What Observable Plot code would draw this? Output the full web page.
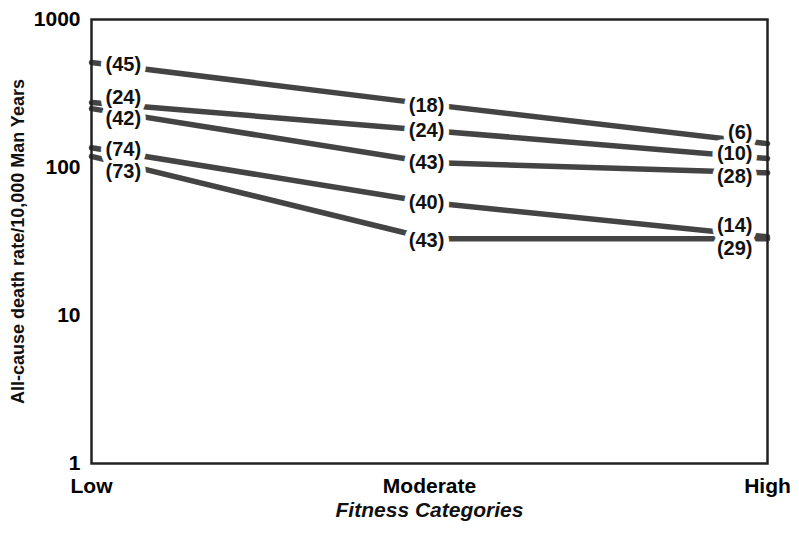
<!DOCTYPE html>
<html>
<head>
<meta charset="utf-8">
<script src="https://cdn.jsdelivr.net/npm/d3@7"></script>
<script src="https://cdn.jsdelivr.net/npm/@observablehq/plot@0.6"></script>
<style>
  html, body { margin: 0; padding: 0; background: #fff; }
</style>
</head>
<body>
<div id="chart"></div>
<script>
// ---- data ----
const categories = ["Low", "Moderate", "High"];
const lowRate = [512, 275, 250, 136, 119];
const moderateRate = [267, 178, 108, 58, 33];
const highRate = [145, 115, 92, 34, 33];
const lowDeaths = [45, 24, 42, 74, 73];
const moderateDeaths = [18, 24, 43, 40, 43];
const highDeaths = [6, 10, 28, 14, 29];
const yTicks = [1, 10, 100, 1000];
const yTitle = "All-cause death rate/10,000 Man Years";
const xTitle = "Fitness Categories";

// label nudges (pixels), kept apart from the data
const lowNudge = [2, -5, 10, 2, 15];
const moderateNudge = [1, 0, 0, 0, 2];
const highNudge = [-11, -5, 4, -11, 10];

const rates = [lowRate, moderateRate, highRate];
const deaths = [lowDeaths, moderateDeaths, highDeaths];
const nudges = [lowNudge, moderateNudge, highNudge];

const rows = [];
for (let i = 0; i < lowRate.length; i++) {
  categories.forEach((c, j) => {
    rows.push({series: i, fitness: c, rate: rates[j][i], deaths: deaths[j][i], nudge: nudges[j][i], col: j});
  });
}

const font = "'Liberation Sans', Arial, Helvetica, sans-serif";
const anchorFor = [
  {textAnchor: "start", dx: 14},
  {textAnchor: "middle", dx: -3},
  {textAnchor: "end", dx: -15}
];
const labelFont = {fontSize: 20, fontWeight: "bold"};

// white halos first (mask the lines), then the label text on top
const haloMarks = rows.map(r => Plot.text([r], {
  x: "fitness", y: "rate", text: d => `(${d.deaths})`,
  dy: r.nudge, ...anchorFor[r.col], ...labelFont,
  fill: "white", stroke: "white", strokeWidth: 11, strokeLinejoin: "round"
}));
const labelMarks = rows.map(r => Plot.text([r], {
  x: "fitness", y: "rate", text: d => `(${d.deaths})`,
  dy: r.nudge, ...anchorFor[r.col], ...labelFont, fill: "#111"
}));

const chart = Plot.plot({
  width: 799,
  height: 536,
  marginLeft: 91,
  marginRight: 32,
  marginTop: 19,
  marginBottom: 73,
  style: {fontFamily: font, background: "white"},
  x: {type: "point", domain: categories, padding: 0, label: null},
  y: {type: "log", domain: [1, 1000], label: null},
  marks: [
    Plot.line(rows, {x: "fitness", y: "rate", z: "series", stroke: "#444", strokeWidth: 5.5, curve: "linear"}),
    ...haloMarks,
    ...labelMarks,
    Plot.frame({stroke: "#222", strokeWidth: 2.5}),
    Plot.axisY({ticks: yTicks, tickFormat: d => String(d), tickSize: 0, tickPadding: 11, fontSize: 21, fontWeight: "bold", label: null}),
    Plot.axisX({tickSize: 0, tickPadding: 15, fontSize: 21, fontWeight: "bold", label: null}),
    Plot.text([xTitle], {frameAnchor: "bottom", dy: 53, text: d => d, fontSize: 21, fontWeight: "bold", fontStyle: "italic", fill: "#111"}),
    Plot.text([yTitle], {frameAnchor: "left", dx: -73, rotate: -90, textAnchor: "middle", text: d => d, fontSize: 18, fontWeight: "bold", fill: "#111"})
  ]
});
document.getElementById("chart").appendChild(chart);
</script>
</body>
</html>
